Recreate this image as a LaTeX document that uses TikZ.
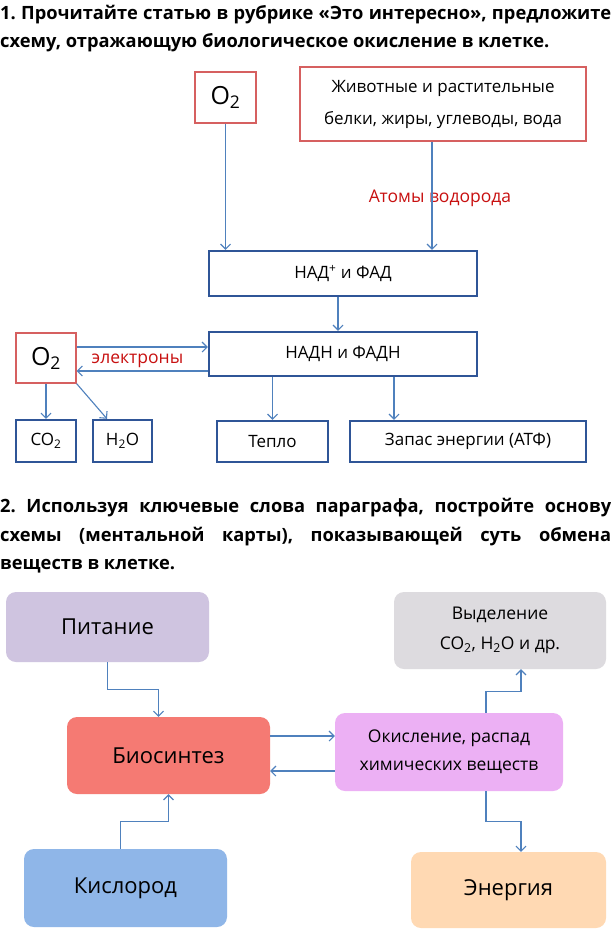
\documentclass[tikz,border=0pt]{standalone}
\usepackage{fontspec}
\setmainfont{Open Sans}
\usetikzlibrary{arrows.meta}

\definecolor{arrowblue}{RGB}{79,129,189}
\definecolor{boxblue}{RGB}{47,85,151}
\definecolor{boxred}{RGB}{214,96,96}
\definecolor{labelred}{RGB}{200,16,16}
\definecolor{pitfill}{RGB}{207,196,224}
\definecolor{vydfill}{RGB}{221,219,223}
\definecolor{biofill}{RGB}{245,122,115}
\definecolor{okifill}{RGB}{236,176,244}
\definecolor{kisfill}{RGB}{143,182,232}
\definecolor{enerfill}{RGB}{255,217,179}

\newcommand{\headfont}{\fontsize{18.3}{22}\selectfont\bfseries}
\newcommand{\sub}[1]{\textsubscript{#1}}
\frenchspacing

\begin{document}
\begin{tikzpicture}[x=1pt,y=-1pt,
  every node/.style={inner sep=0pt, font=\fontsize{17}{20}\selectfont},
  redbox/.style={draw=boxred, line width=1.2pt, font=\fontsize{25}{28}\selectfont},
  bluebox/.style={draw=boxblue, line width=2.4pt},
  mapbox/.style={rounded corners=10pt, font=\fontsize{22}{25}\selectfont},
  arr/.style={draw=arrowblue, line width=1.1pt, -{Straight Barb[length=5pt,width=10pt]}},
  redtext/.style={text=labelred, font=\fontsize{17.5}{20}\selectfont}]
\fill[white] (0,0) rectangle (611,930);
\useasboundingbox (0,0) rectangle (611,930);

% task 1
\node[anchor=base west] (h1a) at (0,19) {\headfont\makebox[611pt][s]{1. Прочитайте статью в рубрике «Это интересно», предложите}};
\node[anchor=base west] (h1b) at (0,47) {\headfont схему, отражающую биологическое окисление в клетке.};

\node[redbox, minimum width=61pt, minimum height=51pt] (o2top) at (225.5,97.5) {O\sub{2}};
\node[redbox, minimum width=286pt, minimum height=74pt, align=center,
      font=\fontsize{17}{32}\selectfont] (food) at (443,104)
  {Животные и растительные\\белки, жиры, углеводы, вода};
\node[redtext] (hatoms) at (440,198) {Атомы водорода};

\node[bluebox, minimum width=268pt, minimum height=45pt] (nad) at (343,273.5) {НАД\textsuperscript{+} и ФАД};
\node[bluebox, minimum width=268pt, minimum height=44pt] (nadh) at (343,354) {НАДН и ФАДН};
\node[redbox, minimum width=60pt, minimum height=50pt] (o2left) at (46,358) {O\sub{2}};
\node[redtext] (elec) at (137.5,361) {электроны};

\node[bluebox, minimum width=60pt, minimum height=42pt] (co2) at (46,441) {CO\sub{2}};
\node[bluebox, minimum width=59pt, minimum height=42pt] (h2o) at (122.5,441) {H\sub{2}O};
\node[bluebox, minimum width=111pt, minimum height=41pt] (teplo) at (272.5,441.5) {Тепло};
\node[bluebox, minimum width=236pt, minimum height=41pt] (zapas) at (468,441.5) {Запас энергии (АТФ)};

% arrows of task 1
\draw[arr] (o2top.south) -- (o2top.south |- nad.north);
\draw[arr] ([xshift=-11pt]food.south) -- ([xshift=-11pt]food.south |- nad.north);
\draw[arr] ([xshift=-5pt]nad.south) -- ([xshift=-5pt]nadh.north);
\draw[arr] ([yshift=11pt]o2left.east) -- ([yshift=11pt]o2left.east -| nadh.west);
\draw[arr] ([yshift=-13pt]o2left.east -| nadh.west) -- ([yshift=-13pt]o2left.east);
\draw[arr] (o2left.south) -- (co2.north);
\draw[arr] (o2left.south east) -- ([xshift=-15.5pt]h2o.north);
\draw[arr] (nadh.south -| teplo.north) -- (teplo.north);
\draw[arr] ([xshift=51pt]nadh.south) -- ([xshift=51pt]nadh.south |- zapas.north);

% task 2
\node[anchor=base west] (h2a) at (0,512) {\headfont\makebox[611pt][s]{2. Используя ключевые слова параграфа, постройте основу}};
\node[anchor=base west] (h2b) at (0,541) {\headfont\makebox[611pt][s]{схемы (ментальной карты), показывающей суть обмена}};
\node[anchor=base west] (h2c) at (0,569) {\headfont веществ в клетке.};

\node[mapbox, fill=pitfill, minimum width=203pt, minimum height=70pt] (pit) at (107.5,627) {Питание};
\node[mapbox, fill=vydfill, minimum width=212pt, minimum height=77pt, align=center,
      font=\fontsize{17.5}{30}\selectfont] (vyd) at (500,630.5) {Выделение\\CO\sub{2}, H\sub{2}O и др.};
\node[mapbox, fill=biofill, minimum width=203pt, minimum height=77pt] (bio) at (168.5,755.5) {Биосинтез};
\node[mapbox, fill=okifill, minimum width=228pt, minimum height=78pt, align=center,
      font=\fontsize{17.5}{28}\selectfont] (oki) at (449,752) {Окисление, распад\\химических веществ};
\node[mapbox, fill=kisfill, minimum width=203pt, minimum height=78pt] (kis) at (125.5,888) {Кислород};
\node[mapbox, fill=enerfill, minimum width=195pt, minimum height=76pt] (ener) at (508.5,890) {Энергия};

% arrows of task 2
\draw[arr] (pit.south) -- ++(0,27) -| ([xshift=-10pt]bio.north);
\draw[arr] ([xshift=-5pt]kis.north) -- ++(0,-27) -| (bio.south);
\draw[arr] ([yshift=19.5pt]bio.east) -- ([yshift=19.5pt]bio.east -| oki.west);
\draw[arr] ([yshift=-15.5pt]bio.east -| oki.west) -- ([yshift=-15.5pt]bio.east);
\draw[arr] ([xshift=37pt]oki.north) -- ++(0,-21) -| ([xshift=21pt]vyd.south);
\draw[arr] ([xshift=37pt]oki.south) -- ++(0,30) -| ([xshift=12.5pt]ener.north);
\end{tikzpicture}
\end{document}
